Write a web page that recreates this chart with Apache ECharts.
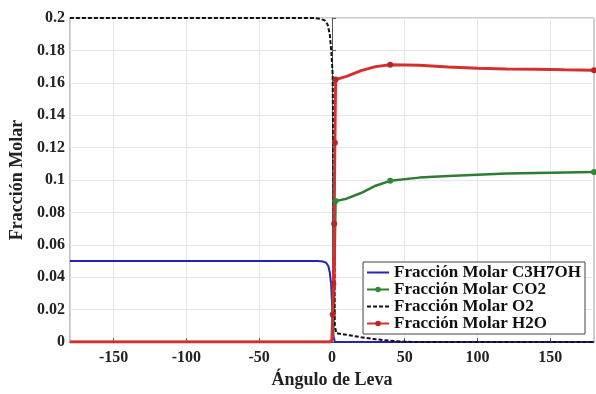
<!DOCTYPE html>
<html>
<head>
<meta charset="utf-8">
<script src="https://cdn.jsdelivr.net/npm/echarts@6/dist/echarts.min.js"></script>
<style>
  html, body { margin: 0; padding: 0; background: #fff; }
  #chart { width: 596px; height: 394px; }
</style>
</head>
<body>
<div id="chart"></div>
<script>
// Values (crank angle in degrees vs molar fraction)
const xTicks = [-150, -100, -50, 0, 50, 100, 150];

const c3h7ohAngle = [-180, -10, -6, -4, -2.5, -1.5, -0.5, 0, 0.5, 1, 2, 180];
const c3h7ohFrac = [0.05, 0.05, 0.0497, 0.049, 0.047, 0.043, 0.035, 0.025, 0.012, 0.004, 0, 0];

const co2Angle = [-180, -1, 0, 0.5, 1, 1.5, 2, 2.5, 10, 20, 30, 40, 60, 80, 100, 120, 150, 180];
const co2Frac = [0, 0, 0, 0.002, 0.008, 0.025, 0.06, 0.087, 0.0885, 0.092, 0.0965, 0.0995,
  0.1015, 0.1025, 0.1033, 0.104, 0.1045, 0.105];

const o2Angle = [-180, -12, -8, -5, -3, -1.5, -0.5, 0.5, 1, 1.5, 2, 3, 10, 20, 30, 40, 50, 60, 180];
const o2Frac = [0.2, 0.2, 0.1995, 0.1985, 0.196, 0.19, 0.18, 0.165, 0.1, 0.05, 0.01, 0.0055,
  0.0045, 0.003, 0.0018, 0.0008, 0.0002, 0, 0];

const h2oAngle = [-180, -1, 0, 0.5, 1, 1.5, 2, 2.5, 10, 20, 30, 40, 60, 80, 100, 120, 140, 160, 180];
const h2oFrac = [0, 0, 0.002, 0.017, 0.036, 0.073, 0.123, 0.162, 0.164, 0.1675, 0.17, 0.1712,
  0.1708, 0.1698, 0.169, 0.1686, 0.1683, 0.168, 0.1678];

const co2MarkedAngles = [2.5, 40, 180];
const h2oMarkedAngles = [40, 180];

const pairs = (xs, ys) => xs.map((x, i) => [x, ys[i]]);

const co2MarkerSize = (v) => (co2MarkedAngles.includes(v[0]) ? 6 : 0);
// water gets a marker on every point of the jump as well
const h2oMarkerSize = (v) =>
  (v[0] > 0 && v[0] <= 3) || h2oMarkedAngles.includes(v[0]) ? 6 : 0;

const serif = "'Liberation Serif', 'Times New Roman', serif";

const chart = echarts.init(document.getElementById("chart"));

const option = {
  backgroundColor: "#fff",
  animation: false,
  grid: {
    left: 68,
    right: 2,
    top: 18,
    bottom: 48,
    show: true,
    borderColor: "#999",
    borderWidth: 1,
  },
  legend: {
    orient: "vertical",
    right: 11,
    top: 262,
    backgroundColor: "#fff",
    borderColor: "#444",
    borderWidth: 1,
    padding: [2, 4, 2, 3],
    itemGap: 0,
    itemWidth: 22,
    itemHeight: 7,
    textStyle: {
      fontFamily: serif,
      fontWeight: "bold",
      fontSize: 17,
      lineHeight: 15,
      color: "#111",
    },
    data: [
      { name: "Fracción Molar C3H7OH", itemStyle: { opacity: 0 } },
      { name: "Fracción Molar CO2" },
      { name: "Fracción Molar O2", itemStyle: { opacity: 0 } },
      { name: "Fracción Molar H2O" },
    ],
  },
  xAxis: {
    type: "value",
    min: -180,
    max: 180,
    name: "Ángulo de Leva",
    nameLocation: "middle",
    nameGap: 24,
    nameTextStyle: {
      fontFamily: serif,
      fontWeight: "bold",
      fontSize: 18,
      color: "#222",
    },
    axisLine: { onZero: false, lineStyle: { color: "#555" } },
    axisTick: { inside: true, length: 4, customValues: xTicks, lineStyle: { color: "#555" } },
    axisLabel: {
      customValues: xTicks,
      margin: 8,
      fontFamily: serif,
      fontWeight: "bold",
      fontSize: 16,
      color: "#222",
    },
    splitLine: { show: true, lineStyle: { color: "#e6e6e6" } },
  },
  yAxis: {
    type: "value",
    min: 0,
    max: 0.2,
    interval: 0.02,
    name: "Fracción Molar",
    nameLocation: "middle",
    nameGap: 32,
    nameTextStyle: {
      fontFamily: serif,
      fontWeight: "bold",
      fontSize: 18,
      color: "#222",
    },
    axisLine: { show: true, lineStyle: { color: "#555" } },
    axisTick: { show: true, inside: true, length: 4, lineStyle: { color: "#555" } },
    axisLabel: {
      margin: 5,
      fontFamily: serif,
      fontWeight: "bold",
      fontSize: 16,
      color: "#222",
    },
    splitLine: { show: true, lineStyle: { color: "#e6e6e6" } },
  },
  series: [
    {
      name: "Fracción Molar C3H7OH",
      type: "line",
      data: pairs(c3h7ohAngle, c3h7ohFrac),
      symbol: "none",
      color: "#2323b5",
      lineStyle: { width: 2, color: "#2323b5" },
    },
    {
      name: "Fracción Molar CO2",
      type: "line",
      data: pairs(co2Angle, co2Frac),
      symbol: "circle",
      symbolSize: co2MarkerSize,
      color: "#2f8a34",
      itemStyle: { color: "#2f8a34" },
      lineStyle: { width: 2.5, color: "#2f7d32" },
    },
    {
      name: "Fracción Molar O2",
      type: "line",
      data: pairs(o2Angle, o2Frac),
      symbol: "none",
      color: "#111",
      lineStyle: { width: 2, color: "#111", type: [4, 2] },
    },
    {
      name: "Fracción Molar H2O",
      type: "line",
      data: pairs(h2oAngle, h2oFrac),
      symbol: "circle",
      symbolSize: h2oMarkerSize,
      color: "#d43030",
      itemStyle: { color: "#b82424" },
      lineStyle: { width: 3, color: "#d43030" },
    },
  ],
};

chart.setOption(option);

window.addEventListener("resize", () => chart.resize());
</script>
</body>
</html>
